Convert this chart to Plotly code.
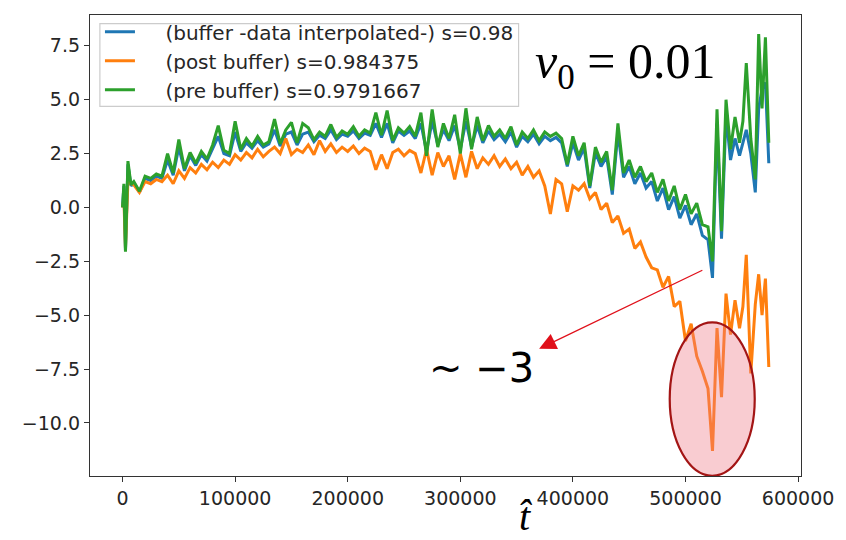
import plotly.graph_objects as go

# ---- data ----
t_early = [0, 1200, 2600, 4800, 7500, 10000]
t_main = list(range(15000, 515001, 5000))
t_tail = [520000, 524000, 528000, 532000, 536000, 540000, 544000, 548000,
          551000, 554000, 558000, 562000, 565000, 568000, 571000, 574000]
t = t_early + t_main + t_tail

green_early = [0.0, 1.1, -2.05, 2.15, 1.05, 1.2]
green_main = [
    0.75, 1.45, 1.35, 1.55, 1.45, 2.5, 1.6, 3.15, 1.8, 2.55,
    2.05, 2.6, 2.25, 2.9, 3.8, 2.65, 2.5, 4.0, 2.7, 3.2,
    2.85, 3.3, 2.9, 3.05, 4.1, 2.95, 3.6, 3.95, 3.0, 3.9,
    3.7, 3.15, 3.5, 3.3, 3.85, 3.25, 3.55, 3.4, 3.75, 3.3,
    3.6, 3.45, 4.4, 3.35, 4.5, 3.1, 3.7, 3.45, 3.75, 3.3,
    4.4, 2.4, 4.55, 2.8, 3.9, 3.2, 4.3, 2.5, 4.6, 2.7,
    4.2, 3.1, 3.8, 3.3, 3.6, 3.2, 3.75, 2.9, 3.5, 3.2,
    3.6, 3.1, 3.5, 3.3, 3.45, 3.2, 2.0, 3.3, 2.4, 3.0,
    1.0, 2.8, 2.1, 2.6, 0.8, 3.9, 1.6, 2.2, 1.4, 1.9,
    1.2, 1.6, 0.7, 1.3, 0.3, 1.0, -0.1, 0.6, -0.3, 0.2,
    -0.8]
green_tail = [-0.9, -2.5, 4.55, -1.1, 5.0, 2.7, 4.2, 3.0,
              4.0, 6.7, 3.2, 1.3, 8.05, 4.6, 7.9, 3.0]

blue_early = [0.0, 1.0, -2.0, 2.0, 1.0, 1.15]
blue_main = [
    0.7, 1.35, 1.25, 1.45, 1.35, 2.2, 1.5, 2.8, 1.7, 2.4,
    1.95, 2.45, 2.15, 2.7, 3.3, 2.5, 2.4, 3.5, 2.6, 3.0,
    2.75, 3.1, 2.8, 2.95, 3.6, 2.85, 3.4, 3.5, 2.9, 3.4,
    3.5, 3.05, 3.35, 3.2, 3.6, 3.15, 3.4, 3.3, 3.55, 3.2,
    3.45, 3.35, 3.9, 3.25, 3.9, 3.0, 3.55, 3.35, 3.55, 3.2,
    3.9, 2.6, 4.0, 2.9, 3.6, 3.1, 3.8, 2.7, 4.0, 2.8,
    3.8, 3.0, 3.55, 3.15, 3.4, 3.05, 3.5, 2.8, 3.3, 3.05,
    3.4, 2.95, 3.3, 3.1, 3.25, 3.0, 1.9, 3.0, 2.2, 2.75,
    0.9, 2.55, 1.9, 2.35, 0.6, 3.5, 1.4, 1.9, 1.1, 1.6,
    0.9, 1.2, 0.3, 0.9, -0.1, 0.5, -0.5, 0.1, -0.8, -0.3,
    -1.3]
blue_tail = [-1.5, -3.27, 3.9, -1.45, 4.3, 2.2, 3.2, 2.4,
             3.0, 3.6, 2.5, 0.7, 4.6, 5.5, 5.8, 2.05]

orange_early = [0.0, 0.4, -1.9, 1.25, 1.1, 1.05]
orange_main = [
    0.7, 1.2, 1.1, 1.3, 1.2, 1.5, 1.1, 1.7, 1.35, 1.85,
    1.6, 2.0, 1.75, 2.1, 1.85, 2.2, 2.0, 2.45, 2.2, 2.55,
    2.3, 2.7, 2.35, 2.6, 2.8, 2.5, 3.2, 2.45, 2.7, 2.55,
    2.9, 2.45, 3.1, 2.6, 2.95, 2.55, 2.8, 2.6, 2.85, 2.5,
    2.75, 2.6, 1.75, 2.45, 1.8, 2.55, 2.7, 2.4, 2.65, 2.5,
    1.6, 2.7, 1.5, 2.55, 1.9, 2.4, 1.3, 2.5, 1.4, 2.6,
    1.8, 2.3, 2.0, 2.4, 1.9, 2.25, 1.8, 2.1, 1.5, 1.9,
    1.4, 1.7, 1.0, -0.3, 1.3, 1.1, -0.2, 1.0, 0.8, 1.1,
    0.4, 0.7, -0.1, 0.2, -0.7, -0.4, -1.2, -1.0, -1.9, -1.6,
    -2.3, -2.8, -2.9, -3.7, -3.2, -4.6, -4.35, -6.2, -5.4, -6.9,
    -7.6]
orange_tail = [-8.4, -11.3, -5.6, -8.8, -4.0, -5.9, -4.3, -5.6,
               -4.6, -2.2, -7.7, -4.5, -3.1, -5.0, -3.3, -7.4]

blue = blue_early + blue_main + blue_tail
orange = orange_early + orange_main + orange_tail
green = green_early + green_main + green_tail

names = ["(buffer -data interpolated-) s=0.98",
         "(post buffer) s=0.984375",
         "(pre buffer) s=0.9791667"]
colors = ["#1f77b4", "#ff7f0e", "#2ca02c"]

x_ticks = [0, 100000, 200000, 300000, 400000, 500000, 600000]
y_ticks = [-10.0, -7.5, -5.0, -2.5, 0.0, 2.5, 5.0, 7.5]
y_ticktext = ["\u221210.0", "\u22127.5", "\u22125.0", "\u22122.5", "0.0", "2.5", "5.0", "7.5"]

fig = go.Figure()
pad = "\u00a0\u00a0\u00a0\u00a0"
for i, (series, name, col) in enumerate(zip([blue, orange, green], names, colors)):
    fig.add_trace(go.Scatter(x=t, y=series, mode="lines", name=pad + name,
                             legendgroup=f"g{i}",
                             line=dict(color=col, width=3)))

# legend frame (matplotlib style)
fig.add_shape(type="rect", xref="paper", yref="paper",
              x0=0.0139, x1=0.6028, y0=0.8017, y1=0.9813,
              fillcolor="rgba(255,255,255,0.8)",
              line=dict(color="#cccccc", width=1.2), layer="above")

# ellipse highlight
fig.add_shape(type="circle", xref="x", yref="y",
              x0=486000, x1=561500, y0=-12.45, y1=-5.33,
              fillcolor="rgba(240,120,135,0.38)",
              line=dict(color="#a31515", width=2.2), layer="above")

# arrow
fig.add_annotation(x=370000, y=-6.56, ax=516300, ay=-2.88,
                   xref="x", yref="y", axref="x", ayref="y",
                   showarrow=True, arrowhead=2, arrowsize=2.6, arrowwidth=1.3,
                   arrowcolor="#e0101a", text="")

fig.add_annotation(x=318400, y=-7.43, xref="x", yref="y",
                   text="~ \u22123", showarrow=False,
                   font=dict(family="DejaVu Sans", size=40, color="black"))

fig.add_annotation(x=0.882, y=0.892, xref="paper", yref="paper",
                   xanchor="right", yanchor="middle",
                   text="<i>\u03bd</i><sub>0</sub> = 0.01", showarrow=False,
                   font=dict(family="Liberation Serif", size=50, color="black"))

fig.add_annotation(x=0.612, y=-0.14, xref="paper", yref="paper",
                   xanchor="center", yanchor="bottom",
                   text="<i>t\u0302</i>", showarrow=False,
                   font=dict(family="Liberation Serif", size=40, color="black"))

axis_common = dict(showline=True, mirror=True, linecolor="#333333", linewidth=1.3,
                   ticks="outside", ticklen=5, tickwidth=1.2, tickcolor="#333333",
                   showgrid=False, zeroline=False,
                   tickfont=dict(family="DejaVu Sans", size=19, color="#262626"))

fig.update_xaxes(range=[-28900, 602600], tickvals=x_ticks,
                 ticktext=[str(v) for v in x_ticks], **axis_common)
fig.update_yaxes(range=[-12.46, 8.93], tickvals=y_ticks, ticktext=y_ticktext,
                 **axis_common)

fig.update_layout(
    width=846, height=540,
    margin=dict(l=90, r=36, t=12, b=64),
    paper_bgcolor="white", plot_bgcolor="white",
    showlegend=True,
    legend=dict(x=0.014, y=1.0057, xanchor="left", yanchor="top",
                bgcolor="rgba(0,0,0,0)", borderwidth=0,
                font=dict(family="DejaVu Sans", size=20, color="#262626"),
                tracegroupgap=0),
)

fig.write_html("out.html")
